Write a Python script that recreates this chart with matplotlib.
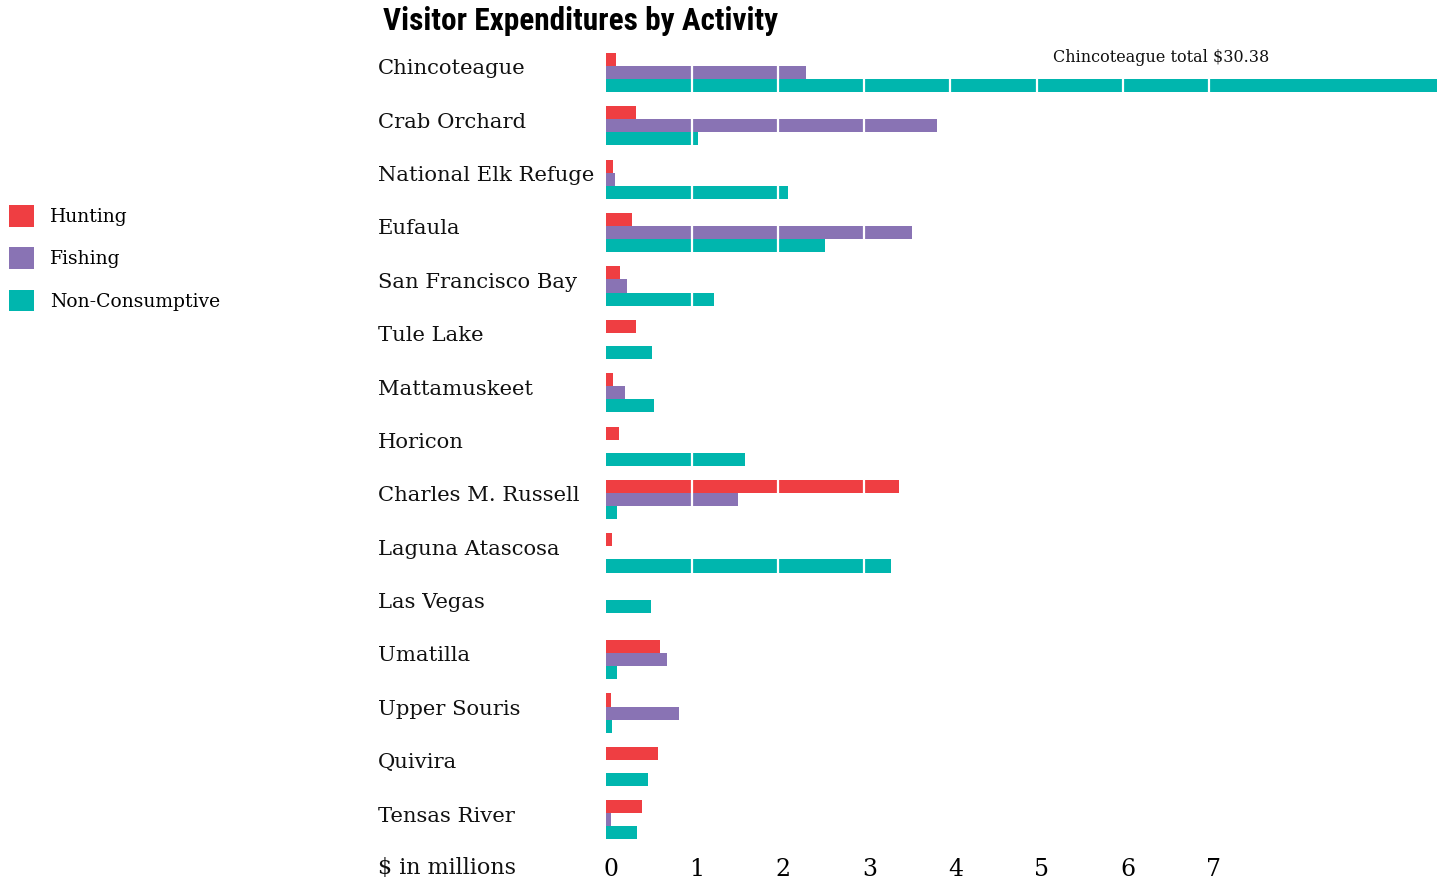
import numpy as np
import matplotlib.pyplot as plt
import matplotlib.transforms as mtransforms

# Datos (millones de $)
refugios = ['Chincoteague', 'Crab Orchard', 'National Elk Refuge', 'Eufaula',
            'San Francisco Bay', 'Tule Lake', 'Mattamuskeet', 'Horicon',
            'Charles M. Russell', 'Laguna Atascosa', 'Las Vegas', 'Umatilla',
            'Upper Souris', 'Quivira', 'Tensas River']
hunting = [0.12, 0.35, 0.08, 0.30, 0.16, 0.35, 0.08, 0.15, 3.40, 0.07, 0.0, 0.63, 0.06, 0.60, 0.42]
fishing = [2.32, 3.85, 0.10, 3.55, 0.24, 0.0, 0.22, 0.0, 1.53, 0.0, 0.0, 0.71, 0.85, 0.0, 0.06]
non_consumptive = [27.94, 1.07, 2.11, 2.54, 1.25, 0.54, 0.56, 1.61, 0.13, 3.31, 0.52, 0.13, 0.07, 0.49, 0.36]
ticks = [0, 1, 2, 3, 4, 5, 6, 7]

colores = {'Hunting': '#EF3E42', 'Fishing': '#8973B4', 'Non-Consumptive': '#00B6AE'}
serif = ['DejaVu Serif']

fig = plt.figure(figsize=(14.37, 8.86), dpi=100)
ax = fig.add_axes([606 / 1437, 1 - 846.5 / 886, 1 - 606 / 1437, (846.5 - 45.8) / 886])

y = np.arange(len(refugios))
h = 0.245
# si solo hay barra de no consumo, va centrada en el grupo
off_nc = np.array([0.0 if (a == 0 and b == 0) else h for a, b in zip(hunting, fishing)])
b1 = ax.barh(y - h, hunting, height=h, color=colores['Hunting'], label='Hunting', zorder=2)
b2 = ax.barh(y, fishing, height=h, color=colores['Fishing'], label='Fishing', zorder=2)
b3 = ax.barh(y + off_nc, non_consumptive, height=h, color=colores['Non-Consumptive'],
             label='Non-Consumptive', zorder=2)

# lineas blancas sobre las barras
for t in ticks[1:]:
    ax.axvline(t, color='white', lw=1.6, zorder=3)

ax.set_xlim(0, (1437 - 606) / 86.1)
ax.set_ylim(len(refugios) - 0.5, -0.5)
for s in ax.spines.values():
    s.set_visible(False)
ax.set_yticks([])
ax.set_xticks(ticks)
ax.set_xticklabels([str(t) for t in ticks], fontfamily=serif, fontsize=17, ha='center')
ax.tick_params(axis='x', length=0, pad=8)
desp = mtransforms.ScaledTranslation(5 / 100, 0, fig.dpi_scale_trans)
for lbl in ax.get_xticklabels():
    lbl.set_transform(lbl.get_transform() + desp)

trans = mtransforms.blended_transform_factory(fig.transFigure, ax.transData)
for i, nombre in enumerate(refugios):
    ax.text(378 / 1437, i - 0.07, nombre, transform=trans, fontfamily=serif,
            fontsize=15.2, va='center', ha='left', color='#111111')

fig.text(378 / 1437, 1 - 868 / 886, '$ in millions', fontfamily=serif, fontsize=16,
         va='center', ha='left', color='#111111')

ax.text((1053 - 606) / 86.1, -0.29, 'Chincoteague total $30.38', fontfamily=serif,
        fontsize=11.5, va='center', ha='left', color='#111111')

fig.text(383 / 1437, 1 - 21 / 886, 'Visitor Expenditures by Activity',
         fontfamily=['Roboto Condensed', 'Roboto', 'DejaVu Sans'], fontweight='bold',
         fontsize=22.5, va='center', ha='left')

fig.legend(handles=[b1, b2, b3], loc='upper left', bbox_to_anchor=(9 / 1437, 1 - 205 / 886),
           frameon=False, prop={'family': serif, 'size': 13.5}, handlelength=1.33,
           handleheight=1.4, labelspacing=1.1, handletextpad=0.85, borderpad=0,
           borderaxespad=0)

plt.savefig('out.png', dpi=100)
